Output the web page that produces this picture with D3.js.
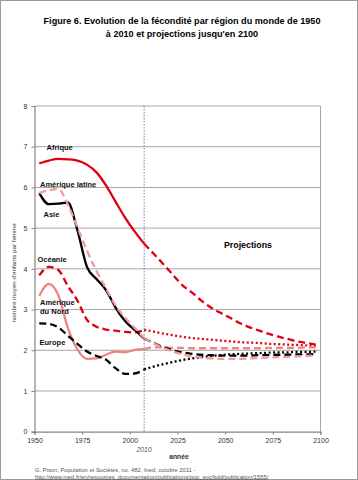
<!DOCTYPE html>
<html>
<head>
<meta charset="utf-8">
<style>
body { margin: 0; background: #fff; }
svg { font-family: "Liberation Sans", Arial, sans-serif; display: block; }
.grid line { stroke: #a6a6a6; stroke-width: 1; }
.axis path, .axis line { stroke: #868686; }
.axis text { fill: #333; font-size: 7px; }
.lbl { font-weight: bold; font-size: 7.5px; fill: #111; }
</style>
<script src="https://cdn.jsdelivr.net/npm/d3@7"></script>
</head>
<body>
<svg width="358" height="480"></svg>
<script>

// periods (mid-years) : estimations then projections
var estYears  = [1952.5, 1957.5, 1962.5, 1967.5, 1972.5, 1977.5, 1982.5, 1987.5, 1992.5, 1997.5, 2002.5, 2007.5];
var projYears = [2012.5, 2017.5, 2022.5, 2027.5, 2032.5, 2037.5, 2042.5, 2047.5, 2052.5,
                 2057.5, 2062.5, 2067.5, 2072.5, 2077.5, 2082.5, 2087.5, 2092.5, 2097.5];

var afriqueEst  = [6.59, 6.66, 6.70, 6.69, 6.66, 6.56, 6.37, 6.05, 5.65, 5.26, 4.92, 4.62];
var afriqueProj = [4.37, 4.12, 3.86, 3.60, 3.42, 3.22, 3.05, 2.92, 2.80, 2.67, 2.57, 2.49, 2.41, 2.34, 2.28, 2.22, 2.18, 2.14];

var latineEst  = [5.86, 5.93, 5.96, 5.58, 5.02, 4.45, 3.95, 3.52, 3.10, 2.80, 2.55, 2.30];
var latineProj = [2.17, 2.06, 1.97, 1.90, 1.85, 1.82, 1.80, 1.79, 1.79, 1.79, 1.80, 1.81, 1.82, 1.83, 1.84, 1.85, 1.86, 1.87];

var asieEst  = [5.86, 5.59, 5.60, 5.63, 4.95, 4.05, 3.75, 3.48, 3.05, 2.72, 2.50, 2.29];
var asieProj = [2.18, 2.08, 2.00, 1.95, 1.91, 1.89, 1.88, 1.87, 1.87, 1.87, 1.87, 1.88, 1.88, 1.89, 1.89, 1.90, 1.90, 1.91];

var oceanieEst  = [3.84, 4.05, 3.97, 3.58, 3.22, 2.75, 2.58, 2.51, 2.48, 2.45, 2.44, 2.50];
var oceanieProj = [2.46, 2.41, 2.37, 2.33, 2.30, 2.28, 2.26, 2.24, 2.22, 2.20, 2.19, 2.18, 2.16, 2.15, 2.14, 2.13, 2.12, 2.11];

var nordEst  = [3.34, 3.63, 3.35, 2.55, 2.02, 1.79, 1.80, 1.89, 1.97, 1.95, 2.01, 2.03];
var nordProj = [2.07, 2.07, 2.06, 2.06, 2.05, 2.05, 2.05, 2.05, 2.05, 2.05, 2.05, 2.05, 2.06, 2.06, 2.06, 2.06, 2.07, 2.07];

var europeEst  = [2.66, 2.65, 2.56, 2.36, 2.16, 1.97, 1.86, 1.77, 1.56, 1.42, 1.43, 1.53];
var europeProj = [1.60, 1.66, 1.71, 1.76, 1.80, 1.83, 1.86, 1.88, 1.90, 1.91, 1.92, 1.93, 1.94, 1.95, 1.95, 1.96, 1.96, 1.97];

var xTicks = [1950, 1975, 2000, 2025, 2050, 2075, 2100];
var yTicks = [0, 1, 2, 3, 4, 5, 6, 7, 8];
var splitYear = 2007.5;

var red = "#e00010", pink = "#f19a9a", pink2 = "#f08484", black = "#000";
var dash = "7,4", dot = "2,2.5";

var series = [
  {name: "Afrique",     est: afriqueEst, proj: afriqueProj, color: red,   estDash: null, projDash: dash},
  {name: "Océanie",     est: oceanieEst, proj: oceanieProj, color: red,   estDash: dash, projDash: dot},
  {name: "Am. du Nord", est: nordEst,    proj: nordProj,    color: pink2, estDash: null, projDash: dash},
  {name: "Europe",      est: europeEst,  proj: europeProj,  color: black, estDash: dash, projDash: dot},
  {name: "Asie",        est: asieEst,    proj: asieProj,    color: black, estDash: null, projDash: dash},
  {name: "Am. latine",  est: latineEst,  proj: latineProj,  color: pink,  estDash: dash, projDash: dash}
];

var svg = d3.select("svg"),
    margin = {top: 106, right: 37.5, bottom: 48.3, left: 34.5},
    width = +svg.attr("width") - margin.left - margin.right,
    height = +svg.attr("height") - margin.top - margin.bottom;

// outer frame
svg.append("rect")
    .attr("x", 0.5).attr("y", 0.5)
    .attr("width", 357).attr("height", 479)
    .attr("fill", "none").attr("stroke", "#9a9a9a");

// title
svg.append("text")
    .attr("x", 182).attr("y", 24)
    .attr("text-anchor", "middle")
    .style("font-weight", "bold").style("font-size", "9.1px")
    .text("Figure 6. Evolution de la fécondité par région du monde de 1950");
svg.append("text")
    .attr("x", 182).attr("y", 37)
    .attr("text-anchor", "middle")
    .style("font-weight", "bold").style("font-size", "9.1px")
    .text("à 2010 et projections jusqu'en 2100");

var x = d3.scaleLinear().domain([1950, 2100]).range([0, width]),
    y = d3.scaleLinear().domain([0, 8]).range([height, 0]);

var g = svg.append("g")
    .attr("transform", "translate(" + margin.left + "," + margin.top + ")");

// gridlines
g.append("g")
    .attr("class", "grid")
  .selectAll("line")
  .data(yTicks.filter(function(d) { return d > 0; }))
  .enter().append("line")
    .attr("x1", 0).attr("x2", width)
    .attr("y1", function(d) { return y(d); })
    .attr("y2", function(d) { return y(d); });

// right border
g.append("line")
    .attr("x1", width).attr("x2", width)
    .attr("y1", 0).attr("y2", height)
    .attr("stroke", "#a6a6a6");

g.append("g")
    .attr("class", "axis axis--x")
    .attr("transform", "translate(0," + height + ")")
    .call(d3.axisBottom(x).tickValues(xTicks).tickFormat(d3.format("d")).tickSize(3).tickPadding(3));

g.append("g")
    .attr("class", "axis axis--y")
    .call(d3.axisLeft(y).tickValues(yTicks).tickSize(3).tickPadding(4));

g.selectAll(".axis path").attr("stroke-width", 1.2);

// 2010 separator
g.append("line")
    .attr("x1", x(splitYear)).attr("x2", x(splitYear))
    .attr("y1", 0).attr("y2", height)
    .attr("stroke", "#5b8bc9").attr("stroke-width", 1)
    .attr("stroke-dasharray", "1.5,1.5");

var line = d3.line()
    .x(function(d) { return x(d[0]); })
    .y(function(d) { return y(d[1]); })
    .curve(d3.curveMonotoneX);

series.forEach(function(s) {
  var est = estYears.map(function(yr, i) { return [yr, s.est[i]]; });
  var proj = [[splitYear, s.est[s.est.length - 1]]].concat(projYears.map(function(yr, i) { return [yr, s.proj[i]]; }));
  g.append("path")
      .datum(proj)
      .attr("fill", "none")
      .attr("stroke", s.color)
      .attr("stroke-width", 2.3)
      .attr("stroke-dasharray", s.projDash)
      .attr("d", line);
  g.append("path")
      .datum(est)
      .attr("fill", "none")
      .attr("stroke", s.color)
      .attr("stroke-width", 2.3)
      .attr("stroke-dasharray", s.estDash)
      .attr("d", line);
});

// series labels
var labels = [
  {t: "Afrique", x: 46.5, y: 150},
  {t: "Amérique latine", x: 40, y: 187},
  {t: "Asie", x: 43.5, y: 217},
  {t: "Océanie", x: 37.5, y: 262},
  {t: "Amérique", x: 40, y: 304.5},
  {t: "du Nord", x: 40, y: 313.5},
  {t: "Europe", x: 39.5, y: 344.5}
];
svg.selectAll(".lbl")
  .data(labels)
  .enter().append("text")
    .attr("class", "lbl")
    .attr("x", function(d) { return d.x; })
    .attr("y", function(d) { return d.y; })
    .text(function(d) { return d.t; });

svg.append("text")
    .attr("x", 224).attr("y", 247.5)
    .style("font-weight", "bold").style("font-size", "8.8px")
    .text("Projections");

// axis titles
svg.append("text")
    .attr("transform", "translate(16,273) rotate(-90)")
    .attr("text-anchor", "middle")
    .style("font-size", "6.2px").style("fill", "#333")
    .text("nombre moyen d'enfants par femme");

svg.append("text")
    .attr("x", margin.left + x(splitYear)).attr("y", 452)
    .attr("text-anchor", "middle")
    .style("font-size", "6.8px").style("font-style", "italic").style("fill", "#555")
    .text("2010");

svg.append("text")
    .attr("x", 179).attr("y", 458.5)
    .attr("text-anchor", "middle")
    .style("font-size", "6.8px").style("font-weight", "bold").style("fill", "#333")
    .text("année");

// source
svg.append("text")
    .attr("x", 35).attr("y", 472)
    .style("font-size", "5.8px").style("fill", "#555")
    .text("G. Pison, Population et Sociétés, no. 482, Ined, octobre 2011 -");
svg.append("text")
    .attr("x", 35).attr("y", 478.5)
    .style("font-size", "5.8px").style("fill", "#555")
    .style("text-decoration", "underline")
    .text("http://www.ined.fr/en/resources_documentation/publications/pop_soc/bdd/publication/1555/");

</script>
</body>
</html>
